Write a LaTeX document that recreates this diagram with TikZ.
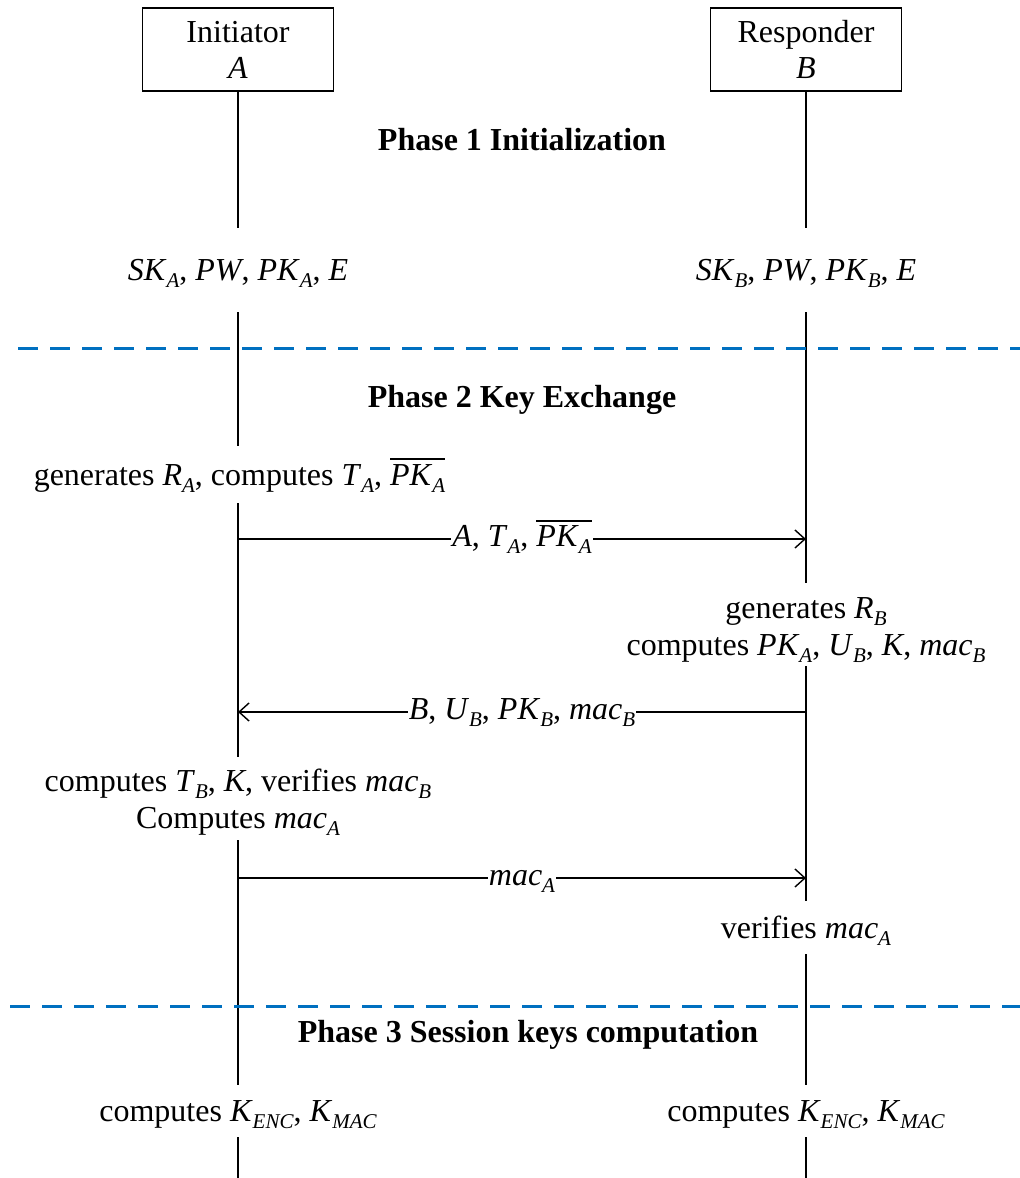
\documentclass[tikz,border=0pt]{standalone}
\usepackage{fontspec}
\setmainfont{Liberation Serif}
\usetikzlibrary{arrows.meta,backgrounds}

% italic symbol with a lowered italic index
\newcommand\sbs[1]{\raisebox{-0.22em}{\fontsize{21}{21}\selectfont\itshape #1}}
\newcommand\iv[2]{\textit{#1}\sbs{#2}}
% bar drawn over a piece of text
\newcommand\ovl[1]{\setbox0\hbox{#1}\rlap{\raisebox{\dimexpr\ht0+4pt\relax}{\rule{\wd0}{1.8pt}}}\box0}
% lower a line of text without changing its box
\newcommand\low[2]{\raisebox{-#1}[\height][\depth]{#2}}

\definecolor{sepblue}{RGB}{0,112,192}
\tikzset{
  every node/.style={font=\fontsize{32}{37}\selectfont},
  actor/.style={draw, line width=1.4pt, minimum width=191pt, minimum height=83pt,
                align=center, inner sep=0pt},
  life/.style={line width=1.6pt},
  act/.style={fill=white, inner xsep=4pt, inner ysep=0pt, align=center},
  line1/.style={act, text height=25pt, text depth=4pt},
  msg/.style={line width=1.4pt, -{Straight Barb[length=10pt,width=18pt,line width=1.4pt]}},
  msglbl/.style={fill=white, inner xsep=1pt, inner ysep=0pt, text height=22pt, text depth=7pt},
  phase/.style={font=\fontsize{32}{37}\selectfont\bfseries, text height=25pt, text depth=4pt, inner ysep=0pt},
  sep/.style={draw=sepblue, line width=3pt, dash pattern=on 20pt off 12pt}
}

\begin{document}
\begin{tikzpicture}[x=1pt,y=-1pt]
\useasboundingbox (0,0) rectangle (1020,1178);

% participants
\node[actor] (boxA) at (238,49.5) {Initiator\\[-1pt]\textit{A}};
\node[actor] (boxB) at (806,49.5) {Responder\\[-1pt]\textit{B}};
\coordinate (endA) at (238,1178);
\coordinate (endB) at (806,1178);

% phase titles
\node[phase] (ph1) at (522,140) {Phase 1 Initialization};
\node[phase] (ph2) at (522,397) {Phase 2 Key Exchange};
\node[phase] (ph3) at (528,1032) {Phase 3 Session keys computation};

% phase separators
\coordinate (s1l) at (18,348);  \coordinate (s1r) at (1020,348);
\coordinate (s2l) at (10,1006); \coordinate (s2r) at (1020,1006);
\draw[sep] (s1l) -- (s1r);
\draw[sep] (s2l) -- (s2r);

% local actions
\node[line1, minimum height=84pt] (sA) at (238,270)
  {\iv{SK}{A}, \textit{PW}, \iv{PK}{A}, \textit{E}};
\node[line1, minimum height=84pt] (sB) at (806,270)
  {\iv{SK}{B}, \textit{PW}, \iv{PK}{B}, \textit{E}};
\node[line1, minimum height=57pt] (gA) at (239.5,474.5)
  {generates \iv{R}{A}, computes \iv{T}{A}, \ovl{\iv{PK}{A}}};
\node[act, minimum height=83pt] (rB) at (806,624.5)
  {\low{5.5pt}{generates \iv{R}{B}}\\
   \low{5.5pt}{computes \iv{PK}{A}, \iv{U}{B}, \textit{K}, \iv{mac}{B}}};
\node[act, minimum height=83pt] (cA) at (238,798.5)
  {\low{3.5pt}{computes \iv{T}{B}, \textit{K}, verifies \iv{mac}{B}}\\
   \low{3.5pt}{Computes \iv{mac}{A}}};
\node[line1, minimum height=53pt] (vB) at (806,927.5)
  {verifies \iv{mac}{A}};
\node[line1, minimum height=52pt] (kA) at (238,1111)
  {computes \iv{K}{ENC}, \iv{K}{MAC}};
\node[line1, minimum height=52pt] (kB) at (806,1111)
  {computes \iv{K}{ENC}, \iv{K}{MAC}};

% lifelines, behind the action labels
\begin{scope}[on background layer]
  \draw[life] (boxA.south) -- (endA);
  \draw[life] (boxB.south) -- (endB);
\end{scope}

% messages
\coordinate (a1) at (238,539); \coordinate (b1) at (806,539);
\coordinate (a2) at (238,712); \coordinate (b2) at (806,712);
\coordinate (a3) at (238,878); \coordinate (b3) at (806,878);
\draw[msg] (a1) -- node[msglbl] (m1) {\textit{A}, \iv{T}{A}, \ovl{\iv{PK}{A}}} (b1);
\draw[msg] (b2) -- node[msglbl] (m2) {\textit{B}, \iv{U}{B}, \iv{PK}{B}, \iv{mac}{B}} (a2);
\draw[msg] (a3) -- node[msglbl] (m3) {\iv{mac}{A}} (b3);
\end{tikzpicture}
\end{document}
